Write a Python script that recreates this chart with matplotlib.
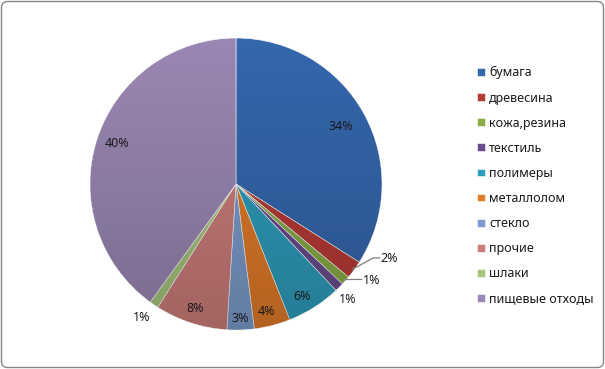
import matplotlib
matplotlib.use("Agg")
import matplotlib.pyplot as plt
import numpy as np
from matplotlib.patches import FancyBboxPatch, Circle

categories = ["бумага", "древесина", "кожа,резина", "текстиль", "полимеры",
              "металлолом", "стекло", "прочие", "шлаки", "пищевые отходы"]
values = [34, 2, 1, 1, 6, 4, 3, 8, 1, 40]
labels = ["34%", "2%", "1%", "1%", "6%", "4%", "3%", "8%", "1%", "40%"]
colors = ["#3567AD", "#B73B37", "#89AC44", "#6A4C8D", "#2F9CBA",
          "#E07B2A", "#7D9BCB", "#CB7D7A", "#A6C47B", "#9A87B3"]

# label placement: (distance in radii, angular offset deg, leader line)
label_style = [(0.82, 0, False), (1.17, 10, True), (1.14, 6, True), (1.10, -1, False),
               (0.89, -2, False), (0.9, -1, False), (0.92, 0, False),
               (0.9, 0, False), (1.12, -1, False), (0.86, -1, False)]

plt.rcParams['font.family'] = ['Noto Sans', 'DejaVu Sans']

W, H = 605, 369
fig = plt.figure(figsize=(W / 100, H / 100), dpi=100)
ax = fig.add_axes([0, 0, 1, 1])

cx, cy, R = 236, H - 184, 146
wedges, _ = ax.pie(values, colors=colors, startangle=90, counterclock=False,
                   center=(cx, cy), radius=R,
                   wedgeprops=dict(edgecolor="white", linewidth=0.4))
ax.set_xlim(0, W)
ax.set_ylim(0, H)
ax.set_aspect("equal")
ax.axis("off")

# subtle vertical shading like the original
grad = np.linspace(0, 1, 256).reshape(-1, 1)
shade = np.zeros((256, 1, 4))
shade[..., 3] = 0.2 * grad
im = ax.imshow(shade, extent=(cx - R, cx + R, cy - R, cy + R), origin="upper",
               aspect="auto", zorder=3)
im.set_clip_path(Circle((cx, cy), R, transform=ax.transData))
ax.set_xlim(0, W)
ax.set_ylim(0, H)

total = sum(values)
cum = 0
for v, lab, (d, off, leader) in zip(values, labels, label_style):
    mid = 90 - (cum + v / 2) / total * 360
    cum += v
    a = np.deg2rad(mid + off)
    tx, ty = cx + d * R * np.cos(a), cy + d * R * np.sin(a)
    if leader:
        am = np.deg2rad(mid)
        sx, sy = cx + 0.99 * R * np.cos(am), cy + 0.99 * R * np.sin(am)
        ax.plot([sx, tx - 16, tx - 10], [sy, ty + 1, ty + 1], color="#7f7f7f",
                lw=0.9, zorder=4)
    ax.text(tx, ty, lab, ha="center", va="center", fontsize=9,
            color="#1a1a1a", zorder=5)

leg = fig.legend(handles=wedges, labels=categories, loc="upper left",
                 bbox_to_anchor=(471 / W, 1 - 60 / H), frameon=False,
                 fontsize=9, handlelength=0.58, handleheight=0.58,
                 handletextpad=0.35, labelspacing=0.97, borderpad=0)
for t in leg.get_texts():
    t.set_color("#1a1a1a")

border = FancyBboxPatch((1.5, 1.5), W - 3, H - 3, boxstyle="round,pad=0,rounding_size=6",
                        transform=None, fill=False, edgecolor="#868686", lw=1)
fig.patches.append(border)

fig.savefig("out.png", dpi=100)
